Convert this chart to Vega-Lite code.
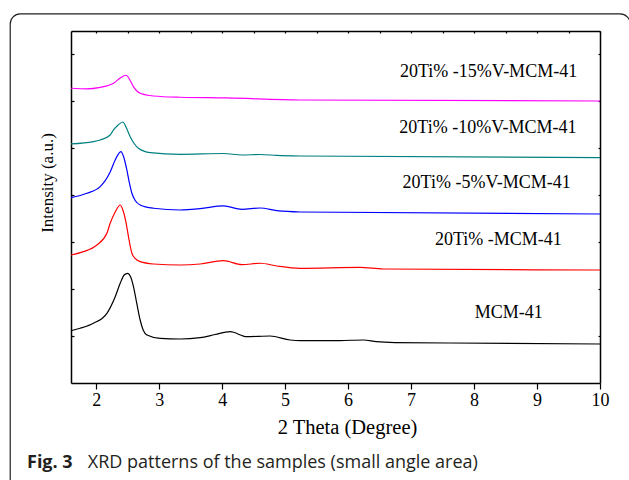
{
  "$schema": "https://vega.github.io/schema/vega-lite/v6.json",
  "width": 529,
  "height": 352,
  "autosize": "none",
  "padding": {"left": 71, "top": 31, "right": 29, "bottom": 97},
  "background": "white",
  "config": {"view": {"stroke": null}},
  "title": {
    "text": "Fig. 3",
    "subtitle": "\u200b\u00a0\u00a0\u00a0\u00a0\u00a0\u00a0\u00a0\u00a0\u00a0\u00a0\u00a0\u00a0\u00a0XRD patterns of the samples (small angle area)",
    "orient": "bottom",
    "anchor": "start",
    "frame": "group",
    "font": "Open Sans",
    "fontSize": 18,
    "fontWeight": "bold",
    "color": "#231f20",
    "subtitleFont": "Open Sans",
    "subtitleFontSize": 18,
    "subtitleFontWeight": "normal",
    "subtitleColor": "#231f20",
    "subtitlePadding": -17.5,
    "dx": -44,
    "offset": -47
  },
  "datasets": {
    "curves": [
      {"s": "MCM-41", "x": 1.6, "y": 1.114},
      {"s": "MCM-41", "x": 1.746, "y": 1.166},
      {"s": "MCM-41", "x": 1.957, "y": 1.272},
      {"s": "MCM-41", "x": 2.17, "y": 1.485},
      {"s": "MCM-41", "x": 2.302, "y": 1.839},
      {"s": "MCM-41", "x": 2.381, "y": 2.124},
      {"s": "MCM-41", "x": 2.444, "y": 2.301},
      {"s": "MCM-41", "x": 2.497, "y": 2.337},
      {"s": "MCM-41", "x": 2.548, "y": 2.259},
      {"s": "MCM-41", "x": 2.592, "y": 2.052},
      {"s": "MCM-41", "x": 2.643, "y": 1.705},
      {"s": "MCM-41", "x": 2.698, "y": 1.342},
      {"s": "MCM-41", "x": 2.746, "y": 1.129},
      {"s": "MCM-41", "x": 2.805, "y": 1.023},
      {"s": "MCM-41", "x": 3.016, "y": 0.952},
      {"s": "MCM-41", "x": 3.333, "y": 0.938},
      {"s": "MCM-41", "x": 3.651, "y": 0.965},
      {"s": "MCM-41", "x": 3.889, "y": 1.033},
      {"s": "MCM-41", "x": 4.127, "y": 1.093},
      {"s": "MCM-41", "x": 4.392, "y": 0.987},
      {"s": "MCM-41", "x": 4.762, "y": 1.001},
      {"s": "MCM-41", "x": 5.079, "y": 0.916},
      {"s": "MCM-41", "x": 5.238, "y": 0.901},
      {"s": "MCM-41", "x": 5.873, "y": 0.905},
      {"s": "MCM-41", "x": 6.243, "y": 0.916},
      {"s": "MCM-41", "x": 6.45, "y": 0.88},
      {"s": "MCM-41", "x": 6.75, "y": 0.862},
      {"s": "MCM-41", "x": 7.619, "y": 0.852},
      {"s": "MCM-41", "x": 10, "y": 0.831},

      {"s": "20Ti% -MCM-41", "x": 1.6, "y": 2.727},
      {"s": "20Ti% -MCM-41", "x": 1.798, "y": 2.798},
      {"s": "20Ti% -MCM-41", "x": 2.011, "y": 2.941},
      {"s": "20Ti% -MCM-41", "x": 2.17, "y": 3.19},
      {"s": "20Ti% -MCM-41", "x": 2.222, "y": 3.403},
      {"s": "20Ti% -MCM-41", "x": 2.302, "y": 3.644},
      {"s": "20Ti% -MCM-41", "x": 2.381, "y": 3.793},
      {"s": "20Ti% -MCM-41", "x": 2.429, "y": 3.665},
      {"s": "20Ti% -MCM-41", "x": 2.476, "y": 3.403},
      {"s": "20Ti% -MCM-41", "x": 2.516, "y": 3.09},
      {"s": "20Ti% -MCM-41", "x": 2.567, "y": 2.764},
      {"s": "20Ti% -MCM-41", "x": 2.619, "y": 2.653},
      {"s": "20Ti% -MCM-41", "x": 2.698, "y": 2.585},
      {"s": "20Ti% -MCM-41", "x": 2.91, "y": 2.536},
      {"s": "20Ti% -MCM-41", "x": 3.333, "y": 2.514},
      {"s": "20Ti% -MCM-41", "x": 3.651, "y": 2.536},
      {"s": "20Ti% -MCM-41", "x": 4.021, "y": 2.606},
      {"s": "20Ti% -MCM-41", "x": 4.313, "y": 2.521},
      {"s": "20Ti% -MCM-41", "x": 4.603, "y": 2.551},
      {"s": "20Ti% -MCM-41", "x": 4.868, "y": 2.493},
      {"s": "20Ti% -MCM-41", "x": 5.238, "y": 2.444},
      {"s": "20Ti% -MCM-41", "x": 6.19, "y": 2.465},
      {"s": "20Ti% -MCM-41", "x": 6.556, "y": 2.429},
      {"s": "20Ti% -MCM-41", "x": 10, "y": 2.408},

      {"s": "20Ti% -5%V-MCM-41", "x": 1.6, "y": 3.948},
      {"s": "20Ti% -5%V-MCM-41", "x": 1.852, "y": 4.042},
      {"s": "20Ti% -5%V-MCM-41", "x": 2.063, "y": 4.183},
      {"s": "20Ti% -5%V-MCM-41", "x": 2.222, "y": 4.496},
      {"s": "20Ti% -5%V-MCM-41", "x": 2.302, "y": 4.752},
      {"s": "20Ti% -5%V-MCM-41", "x": 2.392, "y": 4.929},
      {"s": "20Ti% -5%V-MCM-41", "x": 2.437, "y": 4.816},
      {"s": "20Ti% -5%V-MCM-41", "x": 2.487, "y": 4.539},
      {"s": "20Ti% -5%V-MCM-41", "x": 2.524, "y": 4.283},
      {"s": "20Ti% -5%V-MCM-41", "x": 2.567, "y": 4.042},
      {"s": "20Ti% -5%V-MCM-41", "x": 2.619, "y": 3.889},
      {"s": "20Ti% -5%V-MCM-41", "x": 2.698, "y": 3.793},
      {"s": "20Ti% -5%V-MCM-41", "x": 2.91, "y": 3.723},
      {"s": "20Ti% -5%V-MCM-41", "x": 3.333, "y": 3.686},
      {"s": "20Ti% -5%V-MCM-41", "x": 3.651, "y": 3.714},
      {"s": "20Ti% -5%V-MCM-41", "x": 4.021, "y": 3.772},
      {"s": "20Ti% -5%V-MCM-41", "x": 4.313, "y": 3.701},
      {"s": "20Ti% -5%V-MCM-41", "x": 4.603, "y": 3.729},
      {"s": "20Ti% -5%V-MCM-41", "x": 4.868, "y": 3.671},
      {"s": "20Ti% -5%V-MCM-41", "x": 5.238, "y": 3.644},
      {"s": "20Ti% -5%V-MCM-41", "x": 10, "y": 3.601},

      {"s": "20Ti% -10%V-MCM-41", "x": 1.6, "y": 5.093},
      {"s": "20Ti% -10%V-MCM-41", "x": 1.957, "y": 5.142},
      {"s": "20Ti% -10%V-MCM-41", "x": 2.063, "y": 5.178},
      {"s": "20Ti% -10%V-MCM-41", "x": 2.222, "y": 5.284},
      {"s": "20Ti% -10%V-MCM-41", "x": 2.275, "y": 5.391},
      {"s": "20Ti% -10%V-MCM-41", "x": 2.349, "y": 5.498},
      {"s": "20Ti% -10%V-MCM-41", "x": 2.424, "y": 5.561},
      {"s": "20Ti% -10%V-MCM-41", "x": 2.476, "y": 5.444},
      {"s": "20Ti% -10%V-MCM-41", "x": 2.54, "y": 5.248},
      {"s": "20Ti% -10%V-MCM-41", "x": 2.603, "y": 5.103},
      {"s": "20Ti% -10%V-MCM-41", "x": 2.671, "y": 5.001},
      {"s": "20Ti% -10%V-MCM-41", "x": 2.857, "y": 4.907},
      {"s": "20Ti% -10%V-MCM-41", "x": 3.333, "y": 4.873},
      {"s": "20Ti% -10%V-MCM-41", "x": 4.021, "y": 4.89},
      {"s": "20Ti% -10%V-MCM-41", "x": 4.313, "y": 4.858},
      {"s": "20Ti% -10%V-MCM-41", "x": 4.603, "y": 4.869},
      {"s": "20Ti% -10%V-MCM-41", "x": 4.868, "y": 4.848},
      {"s": "20Ti% -10%V-MCM-41", "x": 5.238, "y": 4.837},
      {"s": "20Ti% -10%V-MCM-41", "x": 10, "y": 4.801},

      {"s": "20Ti% -15%V-MCM-41", "x": 1.6, "y": 6.28},
      {"s": "20Ti% -15%V-MCM-41", "x": 1.85, "y": 6.268},
      {"s": "20Ti% -15%V-MCM-41", "x": 2.063, "y": 6.3},
      {"s": "20Ti% -15%V-MCM-41", "x": 2.275, "y": 6.386},
      {"s": "20Ti% -15%V-MCM-41", "x": 2.381, "y": 6.499},
      {"s": "20Ti% -15%V-MCM-41", "x": 2.476, "y": 6.557},
      {"s": "20Ti% -15%V-MCM-41", "x": 2.54, "y": 6.446},
      {"s": "20Ti% -15%V-MCM-41", "x": 2.592, "y": 6.314},
      {"s": "20Ti% -15%V-MCM-41", "x": 2.646, "y": 6.222},
      {"s": "20Ti% -15%V-MCM-41", "x": 2.698, "y": 6.173},
      {"s": "20Ti% -15%V-MCM-41", "x": 2.91, "y": 6.115},
      {"s": "20Ti% -15%V-MCM-41", "x": 3.333, "y": 6.088},
      {"s": "20Ti% -15%V-MCM-41", "x": 4.075, "y": 6.073},
      {"s": "20Ti% -15%V-MCM-41", "x": 5.238, "y": 6.03},
      {"s": "20Ti% -15%V-MCM-41", "x": 10, "y": 6.009}
    ],
    "labels": [
      {"label": "20Ti% -15%V-MCM-41", "x": 8.23, "y": 6.52},
      {"label": "20Ti% -10%V-MCM-41", "x": 8.22, "y": 5.327},
      {"label": "20Ti% -5%V-MCM-41", "x": 8.2, "y": 4.149},
      {"label": "20Ti% -MCM-41", "x": 8.386, "y": 2.941},
      {"label": "MCM-41", "x": 8.552, "y": 1.391}
    ]
  },
  "layer": [
    {
      "data": {"values": [{}]},
      "mark": {"type": "rect", "fill": null, "fillOpacity": 0, "stroke": "#231f20", "strokeWidth": 1.2, "cornerRadius": 10},
      "encoding": {
        "x": {"datum": 0.635, "type": "quantitative", "axis": null},
        "x2": {"datum": 10.48},
        "y": {"datum": 7.863, "type": "quantitative", "axis": null},
        "y2": {"datum": -2.5}
      }
    },
    {
      "data": {"name": "curves"},
      "mark": {"type": "line", "interpolate": "monotone", "strokeWidth": 1.2},
      "encoding": {
        "x": {
          "field": "x", "type": "quantitative",
          "scale": {"domain": [1.6, 10], "nice": false, "zero": false},
          "axis": {
            "orient": "bottom",
            "values": [2, 2.5, 3, 3.5, 4, 4.5, 5, 5.5, 6, 6.5, 7, 7.5, 8, 8.5, 9, 9.5, 10],
            "format": "d",
            "labelExpr": "datum.value % 1 === 0 ? datum.label : ''",
            "labelFlush": false,
            "labelOverlap": false,
            "tickSize": {"condition": {"test": "datum.value % 1 === 0", "value": 6}, "value": 3},
            "title": "2 Theta (Degree)",
            "titleFont": "Liberation Serif", "titleFontSize": 20.5, "titleFontWeight": "normal", "titleColor": "black",
            "titleX": 276, "titlePadding": 8,
            "labelFont": "Liberation Serif", "labelFontSize": 18, "labelColor": "black", "labelPadding": 2,
            "domainColor": "black", "domainWidth": 1.5, "tickColor": "black", "tickWidth": 1.2, "grid": false
          }
        },
        "y": {
          "field": "y", "type": "quantitative",
          "scale": {"domain": [0, 7.5], "nice": false, "zero": false},
          "axis": {
            "orient": "left",
            "values": [1, 2, 3, 4, 5, 6, 7],
            "labels": false,
            "tickSize": -3,
            "title": "Intensity (a.u.)",
            "titleFont": "Liberation Serif", "titleFontSize": 17, "titleFontWeight": "normal", "titleColor": "black",
            "titleY": 151.5, "titlePadding": 14,
            "domainColor": "black", "domainWidth": 1.5, "tickColor": "black", "tickWidth": 1.2, "grid": false
          }
        },
        "color": {
          "field": "s", "type": "nominal",
          "scale": {
            "domain": ["MCM-41", "20Ti% -MCM-41", "20Ti% -5%V-MCM-41", "20Ti% -10%V-MCM-41", "20Ti% -15%V-MCM-41"],
            "range": ["#000000", "#ff0000", "#0000ff", "#008080", "#ff00ff"]
          },
          "legend": null
        }
      }
    },
    {
      "data": {"name": "labels"},
      "mark": {"type": "text", "font": "Liberation Serif", "fontSize": 18, "align": "center", "baseline": "alphabetic", "color": "black"},
      "encoding": {
        "x": {
          "field": "x", "type": "quantitative",
          "axis": {
            "orient": "top",
            "values": [2, 2.5, 3, 3.5, 4, 4.5, 5, 5.5, 6, 6.5, 7, 7.5, 8, 8.5, 9, 9.5, 10],
            "labels": false, "tickSize": -2, "title": null,
            "domainColor": "black", "domainWidth": 1.5, "tickColor": "black", "tickWidth": 1.2, "grid": false
          }
        },
        "y": {
          "field": "y", "type": "quantitative",
          "axis": {
            "orient": "right",
            "values": [1, 2, 3, 4, 5, 6, 7],
            "labels": false, "tickSize": -2, "title": null,
            "domainColor": "black", "domainWidth": 1.5, "tickColor": "black", "tickWidth": 1.2, "grid": false
          }
        },
        "text": {"field": "label", "type": "nominal"}
      }
    }
  ],
  "resolve": {"axis": {"x": "independent", "y": "independent"}}
}
